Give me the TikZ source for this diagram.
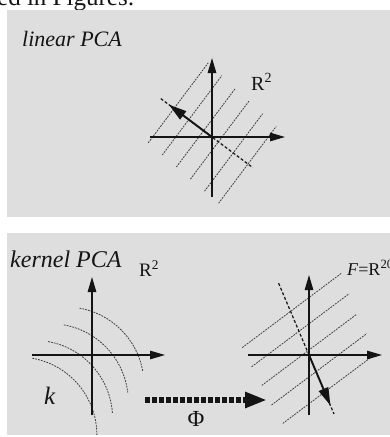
\documentclass[tikz,border=0pt]{standalone}
\usepackage{fontspec}
\setmainfont{Liberation Serif}
\usetikzlibrary{arrows.meta}
\definecolor{panelgray}{RGB}{222,222,222}
\definecolor{inkc}{RGB}{20,20,20}
\definecolor{dotc}{RGB}{60,60,60}
\begin{document}
\begin{tikzpicture}[x=1pt,y=-1pt,
  panel/.style={fill=panelgray,draw=none},
  axis/.style={draw=inkc,line width=1.2pt,-{Triangle[length=15pt,width=8.5pt]}},
  isoline/.style={draw=dotc,line width=0.8pt,dash pattern=on 1.8pt off 1.1pt},
  pcline/.style={draw=inkc,line width=1.2pt,dash pattern=on 3pt off 2pt},
  pcarrow/.style={draw=inkc,line width=1.9pt,-{Triangle[length=18pt,width=10pt]}},
  phiarrow/.style={draw=inkc,line width=6pt,dash pattern=on 5pt off 2pt,-{Triangle[length=22pt,width=15pt]}},
  lbl/.style={inner sep=0pt,anchor=base west,text=inkc},
]
\useasboundingbox (0,0) rectangle (390,437);
\fill[white] (0,0) rectangle (390,437);
\node[lbl,font=\fontsize{25}{25}\selectfont] (cap) at (-3,5) {ed in Figures:};

% panels
\path[panel] (7,10) rectangle (390,217);
\path[panel] (7,233) rectangle (390,435);

% ---------- linear PCA ----------
\node[lbl,font=\fontsize{22}{22}\selectfont\itshape] (t1) at (22,46) {linear PCA};
\coordinate (o1) at (212,137);
\coordinate (x1a) at (150,137); \coordinate (x1b) at (285,137);
\coordinate (y1a) at (212,197); \coordinate (y1b) at (212,58);
\foreach \k in {0,...,5}{
  \pgfmathsetmacro{\a}{-47.5+18.5*\k}
  \pgfmathsetmacro{\tb}{-43-1.2*\k}
  \pgfmathsetmacro{\tt}{57-2*\k}
  \pgfmathsetmacro{\xa}{212+0.8*\a+0.6*\tb}
  \pgfmathsetmacro{\ya}{137+0.6*\a-0.8*\tb}
  \pgfmathsetmacro{\xb}{212+0.8*\a+0.6*\tt}
  \pgfmathsetmacro{\yb}{137+0.6*\a-0.8*\tt}
  \draw[isoline] (\xa,\ya) -- (\xb,\yb);
}
\coordinate (p1a) at (160.8,98.6);
\coordinate (p1b) at (252.8,167.6);
\coordinate (p1tip) at (168.8,104.6);
\draw[pcline] (p1a) -- (p1b);
\draw[axis] (x1a) -- (x1b);
\draw[axis] (y1a) -- (y1b);
\draw[pcarrow] (o1) -- (p1tip);
\node[lbl,font=\fontsize{20}{20}\selectfont] (r1) at (251,90) {R\textsuperscript{2}};

% ---------- kernel PCA ----------
\node[lbl,font=\fontsize{24}{24}\selectfont\itshape] (t2) at (10,267) {kernel PCA};
\coordinate (o2) at (92,355);
\coordinate (x2a) at (32,355); \coordinate (x2b) at (165,355);
\coordinate (y2a) at (92,415); \coordinate (y2b) at (92,277);
\foreach \k in {0,...,3}{
  \pgfmathsetmacro{\cx}{66-15.7*\k}
  \pgfmathsetmacro{\cy}{385+16.7*\k}
  \pgfmathsetmacro{\ea}{-10+3.3*\k}
  \draw[isoline] (\cx,\cy) ++(-80:78) arc[start angle=-80,end angle=\ea,radius=78];
}
\draw[axis] (x2a) -- (x2b);
\draw[axis] (y2a) -- (y2b);
\node[lbl,font=\fontsize{19}{19}\selectfont] (r2) at (139,276) {R\textsuperscript{2}};
\node[lbl,font=\fontsize{25}{25}\selectfont\itshape] (k) at (44,404) {k};

% Phi map
\coordinate (phis) at (145,400);
\coordinate (phie) at (267,400);
\draw[phiarrow] (phis) -- (phie);
\node[inner sep=0pt,anchor=base,text=inkc,font=\fontsize{23}{23}\selectfont] (phi) at (196,426) {Φ};

% feature space
\coordinate (o3) at (309,355);
\coordinate (x3a) at (248,355); \coordinate (x3b) at (382,355);
\coordinate (y3a) at (309,415); \coordinate (y3b) at (309,275);
\foreach \n/\tb/\tt in {-46/-49/75, -25/-53/69, -4/-56/62, 17.5/-60/59, 39/-62/50}{
  \pgfmathsetmacro{\xa}{309+0.6*\n+0.8*\tb}
  \pgfmathsetmacro{\ya}{355+0.8*\n-0.6*\tb}
  \pgfmathsetmacro{\xb}{309+0.6*\n+0.8*\tt}
  \pgfmathsetmacro{\yb}{355+0.8*\n-0.6*\tt}
  \draw[isoline] (\xa,\ya) -- (\xb,\yb);
}
\coordinate (p3a) at (278.6,283.2);
\coordinate (p3b) at (334,414);
\coordinate (p3tip) at (330.5,405.6);
\draw[pcline] (p3a) -- (p3b);
\draw[axis] (x3a) -- (x3b);
\draw[axis] (y3a) -- (y3b);
\draw[pcarrow] (o3) -- (p3tip);
\node[lbl,font=\fontsize{18}{18}\selectfont] (fr) at (347,275) {\textit{F}=R\textsuperscript{20}};
\end{tikzpicture}
\end{document}
